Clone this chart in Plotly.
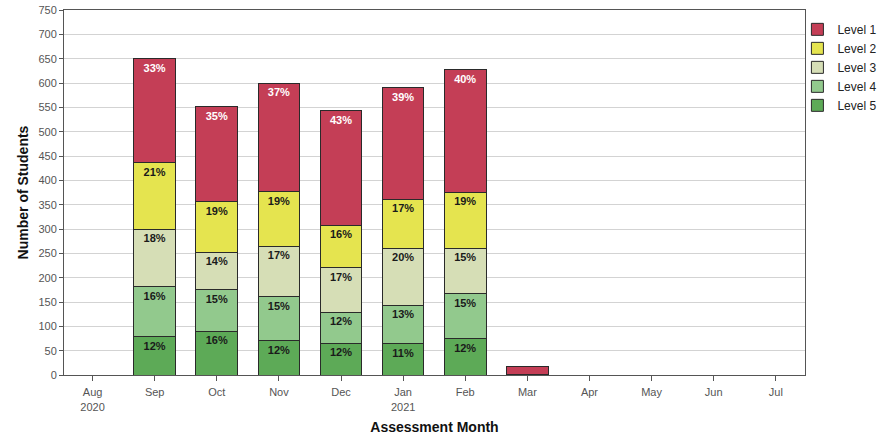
import plotly.graph_objects as go

months = ["Aug<br>2020", "Sep", "Oct", "Nov", "Dec", "Jan<br>2021", "Feb", "Mar", "Apr", "May", "Jun", "Jul"]

level1 = [0, 214, 195, 222, 235, 229, 251, 16, 0, 0, 0, 0]
level2 = [0, 137, 104, 112, 88, 101, 116, 0, 0, 0, 0, 0]
level3 = [0, 118, 77, 104, 91, 117, 93, 0, 0, 0, 0, 0]
level4 = [0, 102, 85, 91, 64, 79, 92, 0, 0, 0, 0, 0]
level5 = [0, 79, 90, 70, 65, 64, 75, 1, 0, 0, 0, 0]

pct1 = ["", "33%", "35%", "37%", "43%", "39%", "40%", "", "", "", "", ""]
pct2 = ["", "21%", "19%", "19%", "16%", "17%", "19%", "", "", "", "", ""]
pct3 = ["", "18%", "14%", "17%", "17%", "20%", "15%", "", "", "", "", ""]
pct4 = ["", "16%", "15%", "15%", "12%", "13%", "15%", "", "", "", "", ""]
pct5 = ["", "12%", "16%", "12%", "12%", "11%", "12%", "", "", "", "", ""]

series = [
    ("Level 5", level5, pct5, "#5DAA57", "#1a1a1a"),
    ("Level 4", level4, pct4, "#92C98D", "#1a1a1a"),
    ("Level 3", level3, pct3, "#D6DEB6", "#1a1a1a"),
    ("Level 2", level2, pct2, "#E5E44F", "#1a1a1a"),
    ("Level 1", level1, pct1, "#C43E56", "#ffffff"),
]

font_family = "Liberation Sans, Arial, sans-serif"

fig = go.Figure()
for name, vals, txt, color, tcolor in series:
    fig.add_trace(go.Bar(
        name=name, x=months, y=vals, text=txt,
        textposition="inside", insidetextanchor="end", textangle=0,
        constraintext="none",
        insidetextfont=dict(color=tcolor, size=11, family=font_family, weight="bold"),
        marker=dict(color=color, line=dict(color="#2a2a2a", width=1)),
        hoverinfo="skip",
    ))

fig.update_layout(
    width=887, height=437,
    margin=dict(l=64, r=82, t=10, b=62, autoexpand=False),
    barmode="stack", bargap=0.33,
    plot_bgcolor="white", paper_bgcolor="white",
    font=dict(family=font_family, color="#555555", size=11),
    legend=dict(traceorder="reversed", xref="container", yref="container",
                x=0.899, y=0.966, xanchor="left", yanchor="top",
                bgcolor="rgba(0,0,0,0)",
                font=dict(size=12, color="#222222"), itemwidth=30, tracegroupgap=0),
    uniformtext=dict(mode=False),
)
fig.update_xaxes(
    type="category", categoryorder="array", categoryarray=months,
    range=[-0.46, 11.47], automargin=False,
    showline=True, linecolor="#555555", linewidth=1, mirror=True,
    ticks="outside", ticklen=5, tickcolor="#555555", ticklabelstandoff=2,
    tickfont=dict(size=11, color="#555555"),
    title=dict(text="<b>Assessment Month</b>", font=dict(size=14, color="#111111"), standoff=10),
)
fig.update_yaxes(
    range=[0, 750], dtick=50, automargin=False,
    showline=True, linecolor="#555555", linewidth=1, mirror=True,
    showgrid=True, gridcolor="#d3d3d3", gridwidth=1,
    ticks="outside", ticklen=4, tickcolor="#555555",
    tickfont=dict(size=11, color="#555555"),
    zeroline=False,
    title=dict(text="<b>Number of Students</b>", font=dict(size=14, color="#111111"), standoff=6),
)

fig.write_html("out.html", config={"displayModeBar": False},
               post_script="document.body.style.margin='0';")
